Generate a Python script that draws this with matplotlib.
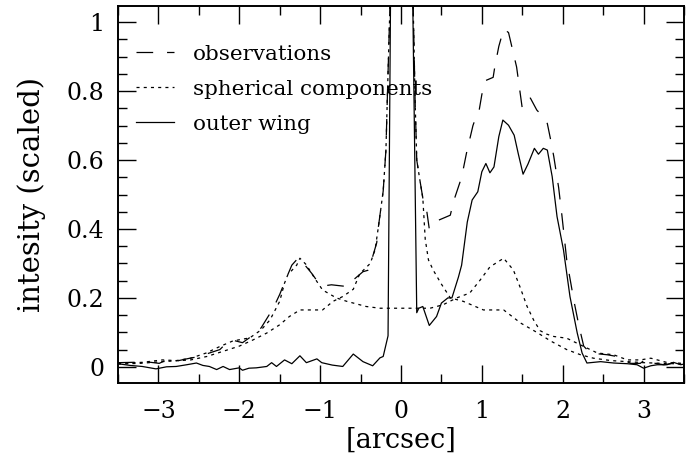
import matplotlib
matplotlib.use("Agg")
import matplotlib.pyplot as plt
from matplotlib.ticker import MultipleLocator, FormatStrFormatter

plt.rcParams["font.family"] = ["DejaVu Serif"]
plt.rcParams["lines.scale_dashes"] = False

# observed profile along the slit
obs_x = [-3.5, -3.13, -2.99, -2.9, -2.75, -2.61, -2.49, -2.37, -2.24, -2.18, -2.06,
         -1.96, -1.87, -1.73, -1.58, -1.5, -1.44, -1.35, -1.27, -1.17, -1.1, -1.04,
         -0.95, -0.86, -0.67, -0.6, -0.55, -0.47, -0.41, -0.35, -0.3, -0.28, -0.22,
         -0.186, -0.17, -0.1, 0.0, 0.12, 0.175, 0.195, 0.235, 0.27, 0.32, 0.35, 0.46,
         0.61, 0.65, 0.75, 0.81, 0.89, 0.92, 0.96, 1.0, 1.04, 1.14, 1.16, 1.21, 1.27,
         1.33, 1.37, 1.43, 1.5, 1.6, 1.68, 1.72, 1.81, 1.85, 1.89, 1.95, 1.99, 2.05,
         2.14, 2.2, 2.26, 2.34, 2.55, 2.67, 2.84, 2.96, 3.04, 3.12, 3.25, 3.37, 3.5]
obs_y = [0.012, 0.014, 0.01, 0.02, 0.018, 0.025, 0.03, 0.04, 0.05, 0.064, 0.076,
         0.07, 0.085, 0.113, 0.17, 0.21, 0.245, 0.295, 0.316, 0.29, 0.27, 0.25,
         0.235, 0.238, 0.233, 0.25, 0.26, 0.276, 0.28, 0.32, 0.36, 0.405, 0.51,
         0.63, 0.77, 1.35, 2.5, 1.4, 0.77, 0.6, 0.54, 0.49, 0.45, 0.40, 0.425,
         0.44, 0.48, 0.55, 0.62, 0.70, 0.72, 0.735, 0.79, 0.83, 0.84, 0.87, 0.93, 0.98,
         0.97, 0.93, 0.87, 0.75, 0.78, 0.745, 0.735, 0.706, 0.66, 0.61, 0.52, 0.44, 0.31,
         0.19, 0.12, 0.06, 0.04, 0.035, 0.03, 0.01, 0.01, 0.025, 0.011, 0.006, 0.01, 0.006]

# spherical components: shell and central source
shell_x = [-3.5, -3.2, -2.95, -2.78, -2.6, -2.41, -2.24, -2.08, -1.87, -1.73, -1.62,
           -1.5, -1.44, -1.4, -1.29, -1.25, -1.17, -1.07, -0.97, -0.8, -0.67, -0.43,
           -0.26, 0.0, 0.36, 0.52, 0.69, 0.85, 0.98, 1.1, 1.27, 1.39, 1.47, 1.56, 1.64,
           1.72, 1.8, 1.89, 2.05, 2.26, 2.43, 2.63, 2.8, 2.96, 3.09, 3.3, 3.5]
shell_y = [0.01, 0.013, 0.02, 0.018, 0.025, 0.04, 0.059, 0.075, 0.084, 0.107, 0.136,
           0.19, 0.243, 0.267, 0.295, 0.315, 0.296, 0.258, 0.223, 0.2, 0.19, 0.175,
           0.17, 0.17, 0.17, 0.18, 0.2, 0.214, 0.252, 0.29, 0.315, 0.281, 0.233, 0.175, 0.136,
           0.105, 0.095, 0.088, 0.083, 0.059, 0.04, 0.035, 0.02, 0.02, 0.025, 0.012, 0.01]

core_x = [-3.5, -3.23, -2.95, -2.6, -2.4, -2.2, -2.0, -1.83, -1.66, -1.5, -1.38, -1.25,
          -0.97, -0.84, -0.72, -0.59, -0.51, -0.38, -0.32, -0.28, -0.22, -0.186, -0.17,
          -0.1, 0.0, 0.12, 0.175, 0.195, 0.235, 0.27, 0.30, 0.34, 0.40, 0.5, 0.61, 0.77,
          1.02, 1.27, 1.48, 1.68, 1.85, 2.05, 2.22, 2.38, 2.6, 3.0, 3.5]
core_y = [0.008, 0.01, 0.015, 0.02, 0.03, 0.045, 0.06, 0.078, 0.098, 0.122, 0.146, 0.165,
          0.165, 0.19, 0.204, 0.225, 0.27, 0.3, 0.34, 0.405, 0.51, 0.63, 0.77,
          1.35, 2.5, 1.4, 0.77, 0.6, 0.54, 0.49, 0.37, 0.31, 0.28, 0.24, 0.2, 0.19,
          0.165, 0.165, 0.127, 0.1, 0.075, 0.05, 0.035, 0.025, 0.018, 0.012, 0.008]

# residual outer wing
wing_x = [-3.5, -3.35, -3.2, -3.03, -2.9, -2.78, -2.65, -2.53, -2.45, -2.37, -2.28,
          -2.2, -2.12, -2.0, -1.96, -1.88, -1.79, -1.66, -1.6, -1.54, -1.44, -1.35,
          -1.25, -1.17, -1.04, -0.98, -0.85, -0.72, -0.59, -0.47, -0.35, -0.26, -0.22,
          -0.16, -0.10, 0.0, 0.10, 0.195, 0.22, 0.27, 0.35, 0.44, 0.5, 0.58, 0.63, 0.71,
          0.75, 0.82, 0.88, 0.95, 1.0, 1.05, 1.1, 1.15, 1.21, 1.26, 1.33, 1.4, 1.45,
          1.51, 1.57, 1.65, 1.7, 1.76, 1.81, 1.87, 1.93, 2.01, 2.09, 2.18, 2.24, 2.3,
          2.47, 2.63, 2.8, 2.92, 3.0, 3.09, 3.17, 3.29, 3.37, 3.46, 3.5]
wing_y = [0.009, 0.004, 0.001, -0.006, 0.0, 0.001, 0.006, 0.011, 0.004, 0.001, -0.008,
          0.001, -0.008, -0.003, -0.01, -0.004, -0.003, 0.001, 0.012, 0.001, 0.02, 0.009,
          0.032, 0.012, 0.023, 0.012, 0.005, 0.001, 0.037, 0.015, 0.003, 0.026, 0.03,
          0.09, 2.0, 4.0, 1.9, 0.157, 0.17, 0.175, 0.12, 0.146, 0.185, 0.2, 0.2, 0.26,
          0.295, 0.42, 0.484, 0.508, 0.566, 0.59, 0.563, 0.58, 0.668, 0.716, 0.701, 0.672, 0.619,
          0.559, 0.588, 0.634, 0.617, 0.634, 0.629, 0.552, 0.436, 0.339, 0.204, 0.098, 0.04, 0.011,
          0.015, 0.011, 0.009, 0.006, -0.004, 0.003, 0.006, 0.006, 0.013, 0.006, 0.008]

dash = (0, (12, 10))
dot = (0, (2.2, 3.0))
lw = 0.9

fig = plt.figure(figsize=(6.99, 4.66), dpi=100)
ax = fig.add_axes([0.1688, 0.1781, 0.8097, 0.809])

l1, = ax.plot(obs_x, obs_y, color="black", lw=lw, linestyle=dash, label="observations")
l2, = ax.plot(shell_x, shell_y, color="black", lw=lw, linestyle=dot,
              label="spherical components")
ax.plot(core_x, core_y, color="black", lw=lw, linestyle=dot)
l3, = ax.plot(wing_x, wing_y, color="black", lw=lw, linestyle="-", label="outer wing")

ax.set_xlim(-3.5, 3.5)
ax.set_ylim(-0.047, 1.047)

ax.xaxis.set_major_locator(MultipleLocator(1))
ax.xaxis.set_minor_locator(MultipleLocator(0.5))
ax.yaxis.set_major_locator(MultipleLocator(0.2))
ax.yaxis.set_minor_locator(MultipleLocator(0.05))
ax.yaxis.set_major_formatter(FormatStrFormatter("%g"))

ax.tick_params(which="both", direction="in", top=True, right=True, width=1.0,
               labelsize=17, colors="black")
ax.tick_params(which="major", length=13)
ax.tick_params(which="minor", length=6.5)
ax.tick_params(axis="x", which="major", pad=12)
ax.tick_params(axis="y", which="major", pad=10)
for s in ax.spines.values():
    s.set_linewidth(1.4)

ax.set_xlabel("[arcsec]", fontsize=19.5, labelpad=3)
ax.set_ylabel("intesity (scaled)", fontsize=21, labelpad=15)

ax.legend(handles=[l1, l2, l3], loc="upper left", bbox_to_anchor=(0.032, 0.897),
          frameon=False, fontsize=15.4, handlelength=1.75, handletextpad=0.9,
          labelspacing=0.75, borderpad=0, borderaxespad=0)

fig.savefig("out.png", dpi=100, facecolor="white")
